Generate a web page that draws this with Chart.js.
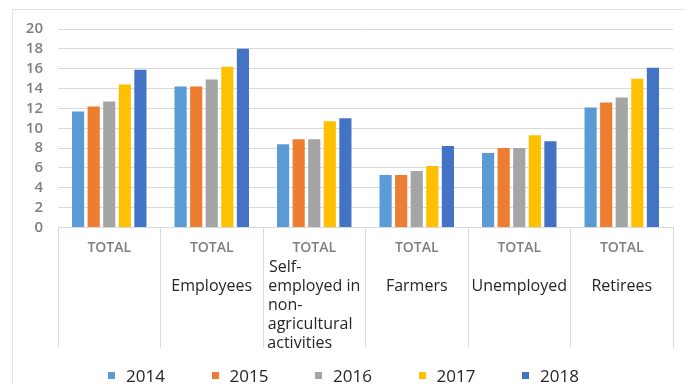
<!DOCTYPE html>
<html>
<head>
<meta charset="utf-8">
<script src="https://cdn.jsdelivr.net/npm/chart.js@4"></script>
<style>
  html, body { margin: 0; padding: 0; background: #ffffff; }
  #wrap { position: relative; width: 685px; height: 385px; overflow: hidden; }
  #frame { position: absolute; left: 12px; top: 9px; right: 0; bottom: 0;
           border-left: 1px solid #e2e2e2; border-top: 1px solid #e2e2e2; }
  canvas { position: absolute; left: 0; top: 0; }
  #legend { position: absolute; left: 108px; top: 365px; display: flex; margin: 0; padding: 0; list-style: none; }
  #legend li { width: 103.5px; display: flex; align-items: center; height: 20px;
               font: 17px 'Open Sans', 'DejaVu Sans', sans-serif; color: #262626; }
  #legend .box { width: 7px; height: 7px; margin-right: 11px; flex: none; }
</style>
</head>
<body>
<div id="wrap">
  <div id="frame"></div>
  <canvas id="chart" width="685" height="385"></canvas>
  <ul id="legend"></ul>
</div>
<script>
// Series, one value per group
const years = ['2014', '2015', '2016', '2017', '2018'];
const values2014 = [11.7, 14.2, 8.4, 5.3, 7.5, 12.1];
const values2015 = [12.2, 14.2, 8.9, 5.3, 8.0, 12.6];
const values2016 = [12.7, 14.9, 8.9, 5.7, 8.0, 13.1];
const values2017 = [14.4, 16.2, 10.7, 6.2, 9.3, 15.0];
const values2018 = [15.9, 18.0, 11.0, 8.2, 8.7, 16.1];

// Two-level category axis: inner label and group label
const innerLabels = ['TOTAL', 'TOTAL', 'TOTAL', 'TOTAL', 'TOTAL', 'TOTAL'];
const groupLabels = [
  [''],
  ['', 'Employees'],
  ['Self-', 'employed in', 'non-', 'agricultural', 'activities'],
  ['', 'Farmers'],
  ['', 'Unemployed'],
  ['', 'Retirees']
];

// Y axis range
const yMin = 0;
const yMax = 20;
const yStep = 2;

const colors = ['#5b9bd5', '#ed7d31', '#a5a5a5', '#ffc000', '#4472c4'];
const seriesValues = [values2014, values2015, values2016, values2017, values2018];

const FONT = "'Open Sans', 'DejaVu Sans', sans-serif";
const groupFontSize = 16;

// Pad shorter lines of a wrapped label so the block reads left-aligned when centred
function leftAlignBlock(lines, fontString) {
  const ctx = document.createElement('canvas').getContext('2d');
  ctx.font = fontString;
  const widest = Math.max(...lines.map(l => ctx.measureText(l).width));
  const space = ctx.measureText('\u00a0').width;
  return lines.map(l => {
    if (!l) return l;
    const n = Math.round((widest - ctx.measureText(l).width) / space);
    return l + '\u00a0'.repeat(Math.max(0, n));
  });
}
const groupFontString = groupFontSize + "px 'Open Sans'";
const groupTickLabels = groupLabels.map(lines => lines.length > 2 ? leftAlignBlock(lines, groupFontString) : lines);

const datasets = years.map((y, i) => ({
  label: y,
  data: seriesValues[i],
  backgroundColor: colors[i],
  borderWidth: 0,
  categoryPercentage: 0.76,
  barPercentage: 0.78,
  xAxisID: 'x',
  yAxisID: 'y'
}));

// Legend list built from the chart's own datasets
const htmlLegend = {
  id: 'htmlLegend',
  afterUpdate(chart) {
    const list = document.getElementById('legend');
    list.innerHTML = '';
    chart.data.datasets.forEach(ds => {
      const li = document.createElement('li');
      const box = document.createElement('span');
      box.className = 'box';
      box.style.background = ds.backgroundColor;
      const text = document.createElement('span');
      text.textContent = ds.label;
      li.appendChild(box);
      li.appendChild(text);
      list.appendChild(li);
    });
  }
};

new Chart(document.getElementById('chart'), {
  type: 'bar',
  data: { labels: innerLabels, datasets },
  plugins: [htmlLegend],
  options: {
    responsive: false,
    animation: false,
    devicePixelRatio: 1,
    layout: { padding: { left: 0, right: 12, top: 29, bottom: 33 } },
    plugins: {
      tooltip: { enabled: false },
      legend: { display: false }
    },
    scales: {
      y: {
        min: yMin,
        max: yMax,
        ticks: {
          stepSize: yStep,
          autoSkip: false,
          padding: 15,
          color: '#7f7f7f',
          font: { family: FONT, size: 15, weight: '600' }
        },
        grid: { color: '#d9d9d9', lineWidth: 1, drawTicks: false },
        border: { display: false },
        afterFit: s => { s.width = 58; }
      },
      x: {
        position: 'bottom',
        weight: 0,
        offset: true,
        ticks: {
          autoSkip: false,
          maxRotation: 0,
          minRotation: 0,
          padding: -109,
          color: '#7f7f7f',
          font: { family: FONT, size: 14, weight: '600', lineHeight: '19px' }
        },
        grid: {
          offset: true,
          drawOnChartArea: false,
          drawTicks: true,
          tickLength: 120,
          color: '#d9d9d9',
          lineWidth: 1
        },
        border: { display: true, color: '#d9d9d9', width: 1 },
        afterFit: s => { s.height = 30; }
      },
      x2: {
        type: 'category',
        labels: groupTickLabels,
        position: 'bottom',
        weight: 1,
        offset: true,
        ticks: {
          autoSkip: false,
          maxRotation: 0,
          minRotation: 0,
          padding: 0,
          color: '#262626',
          font: { family: FONT, size: groupFontSize, lineHeight: '19px' }
        },
        grid: { display: false, drawTicks: false },
        border: { display: false },
        afterFit: s => { s.height = 94.5; }
      }
    }
  }
});
</script>
</body>
</html>
